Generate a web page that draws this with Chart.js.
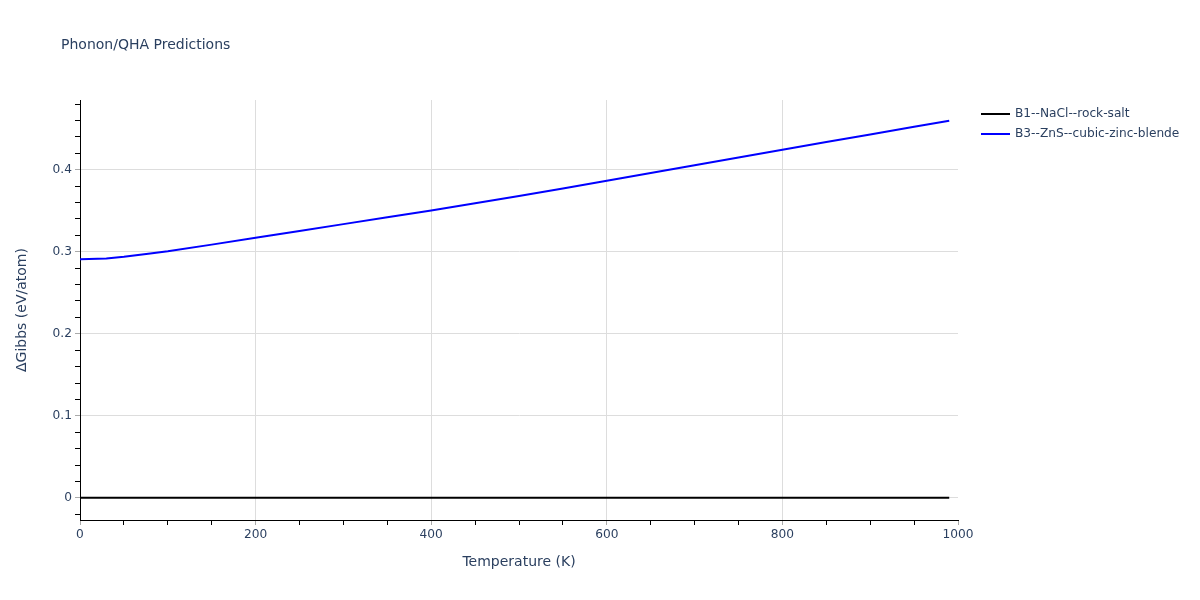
<!DOCTYPE html>
<html>
<head>
<meta charset="utf-8">
<script src="https://cdn.jsdelivr.net/npm/chart.js@4"></script>
<style>
	body { margin: 0; background: #fff; }
	#wrap { width: 1200px; height: 600px; }
</style>
</head>
<body>
<div id="wrap"><canvas id="myChart" width="1200" height="600"></canvas></div>
<script>
const temps = [ 0, 30, 50, 80, 100, 150, 200, 250, 300, 350, 400, 450, 500, 550, 600, 650, 700, 750, 800, 850, 900, 950, 990 ];
const rockSalt = [ 0, 0, 0, 0, 0, 0, 0, 0, 0, 0, 0, 0, 0, 0, 0, 0, 0, 0, 0, 0, 0, 0, 0 ];
const zincBlende = [ 0.291, 0.2918, 0.2938, 0.2978, 0.3005, 0.3087, 0.317, 0.3254, 0.3337, 0.342, 0.3503, 0.3591, 0.368, 0.3772, 0.3865, 0.396, 0.4055, 0.415, 0.4244, 0.4337, 0.443, 0.4523, 0.4598 ];
const seriesNames = [ 'B1--NaCl--rock-salt', 'B3--ZnS--cubic-zinc-blende' ];
const seriesColors = [ '#000000', '#0000ff' ];

const textColor = '#2a3f5f';
const gridColor = '#dddddd';
const font = '"DejaVu Sans", Verdana, sans-serif';

const toPoints = (ys) => temps.map((t, i) => ({ x: t, y: ys[i] }));
const isMajorY = (v) => Math.abs(v * 10 - Math.round(v * 10)) < 1e-6;
const isMajorX = (v) => Math.round(v) % 200 === 0;

// title + legend drawn plotly-style
const decorPlugin = {
	id: 'decor',
	afterDraw(chart) {
		const c = chart.ctx;
		c.save();
		c.fillStyle = textColor;
		c.font = '14px ' + font;
		c.textBaseline = 'middle';
		c.textAlign = 'left';
		c.fillText('Phonon/QHA Predictions', 61, 45);

		c.font = '12.2px ' + font;
		chart.data.datasets.forEach((ds, i) => {
			const y = 114 + i * 20;
			c.strokeStyle = ds.borderColor;
			c.lineWidth = 2;
			c.beginPath();
			c.moveTo(981, y);
			c.lineTo(1010, y);
			c.stroke();
			c.fillStyle = textColor;
			c.fillText(ds.label, 1015, y);
		});
		c.restore();
	}
};

const ctx = document.getElementById('myChart').getContext('2d');

const chart = new Chart(ctx, {
	type: 'line',
	data: {
		datasets: [
			{
				label: seriesNames[0],
				data: toPoints(rockSalt),
				borderColor: seriesColors[0],
				borderWidth: 2,
				pointRadius: 0,
				fill: false
			},
			{
				label: seriesNames[1],
				data: toPoints(zincBlende),
				borderColor: seriesColors[1],
				borderWidth: 2,
				pointRadius: 0,
				fill: false
			}
		]
	},
	options: {
		responsive: false,
		animation: false,
		layout: {
			padding: { left: 0, right: 242, top: 100, bottom: 0 }
		},
		plugins: {
			legend: { display: false },
			title: { display: false },
			tooltip: { enabled: false }
		},
		scales: {
			x: {
				type: 'linear',
				min: 0,
				max: 1000,
				afterFit: (scale) => { scale.height = 80; },
				border: { display: true, color: '#000000', width: 1 },
				grid: {
					color: (c) => (isMajorX(c.tick.value) && c.tick.value !== 0 && c.tick.value !== 1000 ? gridColor : 'transparent'),
					tickColor: (c) => (isMajorX(c.tick.value) ? '#aaaaaa' : '#000000'),
					tickLength: 5
				},
				ticks: {
					stepSize: 50,
					autoSkip: false,
					maxRotation: 0,
					padding: 3,
					color: textColor,
					font: { family: font, size: 12.2 },
					callback: (v) => (isMajorX(v) ? String(v) : '')
				},
				title: {
					display: true,
					text: 'Temperature (K)',
					color: textColor,
					font: { family: font, size: 14 },
					padding: { top: 29, bottom: 29 }
				}
			},
			y: {
				type: 'linear',
				min: -0.027,
				max: 0.485,
				afterFit: (scale) => { scale.width = 80; },
				border: { display: true, color: '#000000', width: 1 },
				grid: {
					color: (c) => (isMajorY(c.tick.value) ? gridColor : 'transparent'),
					tickColor: (c) => (isMajorY(c.tick.value) ? '#aaaaaa' : '#000000'),
					tickLength: 5
				},
				ticks: {
					stepSize: 0.02,
					includeBounds: false,
					autoSkip: false,
					padding: 3,
					color: textColor,
					font: { family: font, size: 12.2 },
					callback: (v) => (isMajorY(v) ? String(Math.round(v * 10) / 10) : '')
				},
				title: {
					display: true,
					text: 'ΔGibbs (eV/atom)',
					color: textColor,
					font: { family: font, size: 14 },
					padding: { top: 14, bottom: 14 }
				}
			}
		}
	},
	plugins: [ decorPlugin ]
});
</script>
</body>
</html>
